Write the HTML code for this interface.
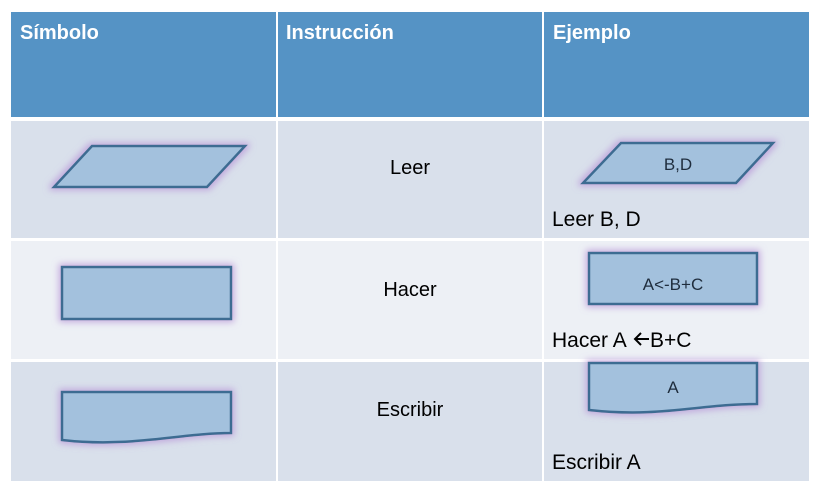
<!DOCTYPE html>
<html><head><meta charset="utf-8"><style>
html,body{margin:0;padding:0;background:#fff;}
svg{display:block;}
text{font-family:"Liberation Sans",sans-serif;}
</style></head><body>
<svg width="819" height="483" viewBox="0 0 819 483" xmlns="http://www.w3.org/2000/svg">
<defs>
<filter id="g" x="-20%" y="-40%" width="140%" height="180%">
<feMorphology in="SourceAlpha" operator="dilate" radius="2" result="d"/>
<feGaussianBlur in="d" stdDeviation="3.5" result="b"/>
<feFlood flood-color="#b896d8" flood-opacity="0.75"/>
<feComposite in2="b" operator="in" result="s"/>
<feMerge><feMergeNode in="s"/><feMergeNode in="SourceGraphic"/></feMerge>
</filter>
</defs>
<rect x="0" y="0" width="819" height="483" fill="#fff"/>
<rect x="11" y="12" width="265" height="105" fill="#5593c5"/>
<rect x="278" y="12" width="264" height="105" fill="#5593c5"/>
<rect x="544" y="12" width="265" height="105" fill="#5593c5"/>
<text x="20" y="39" font-size="20" font-weight="bold" fill="#fff">Símbolo</text>
<text x="286" y="39" font-size="20" font-weight="bold" fill="#fff">Instrucción</text>
<text x="553" y="39" font-size="20" font-weight="bold" fill="#fff">Ejemplo</text>
<g fill="#d9e0eb"><rect x="11" y="121" width="265" height="117"/><rect x="278" y="121" width="264" height="117"/><rect x="544" y="121" width="265" height="117"/></g>
<g fill="#edf0f5"><rect x="11" y="241" width="265" height="118"/><rect x="278" y="241" width="264" height="118"/><rect x="544" y="241" width="265" height="118"/></g>
<g fill="#d9e0eb"><rect x="11" y="362" width="265" height="119"/><rect x="278" y="362" width="264" height="119"/><rect x="544" y="362" width="265" height="119"/></g>
<g stroke="#3e6c92" stroke-width="2.5" fill="#a3c1dd" filter="url(#g)">
<polygon points="92,146 245,146 207,187 54,187"/>
<rect x="62" y="267" width="169" height="52"/>
<path d="M62,392 H231 V433 C180,433 130,448 62,440 Z"/>
<polygon points="621,143 773,143 736,183 583,183"/>
<rect x="589" y="253" width="168" height="51"/>
<path d="M589,363 H757 V404 C700,404 660,418 589,410 Z"/>
</g>
<g font-size="20" fill="#000" text-anchor="middle">
<text x="410" y="174">Leer</text>
<text x="410" y="296">Hacer</text>
<text x="410" y="416">Escribir</text>
</g>
<g font-size="17" fill="#1f2d3d" text-anchor="middle">
<text x="678" y="170">B,D</text>
<text x="673" y="290">A&lt;-B+C</text>
<text x="673" y="393">A</text>
</g>
<g font-size="21" fill="#000">
<text x="552" y="226">Leer B, D</text>
<text x="552" y="347">Hacer A</text>
<text x="650" y="347">B+C</text>
<text x="552" y="469">Escribir A</text>
</g>
<g stroke="#000" stroke-width="2" fill="none">
<line x1="635" y1="339" x2="649" y2="339"/>
<polyline points="641,333 635,339 641,345"/>
</g>
</svg>
</body></html>
